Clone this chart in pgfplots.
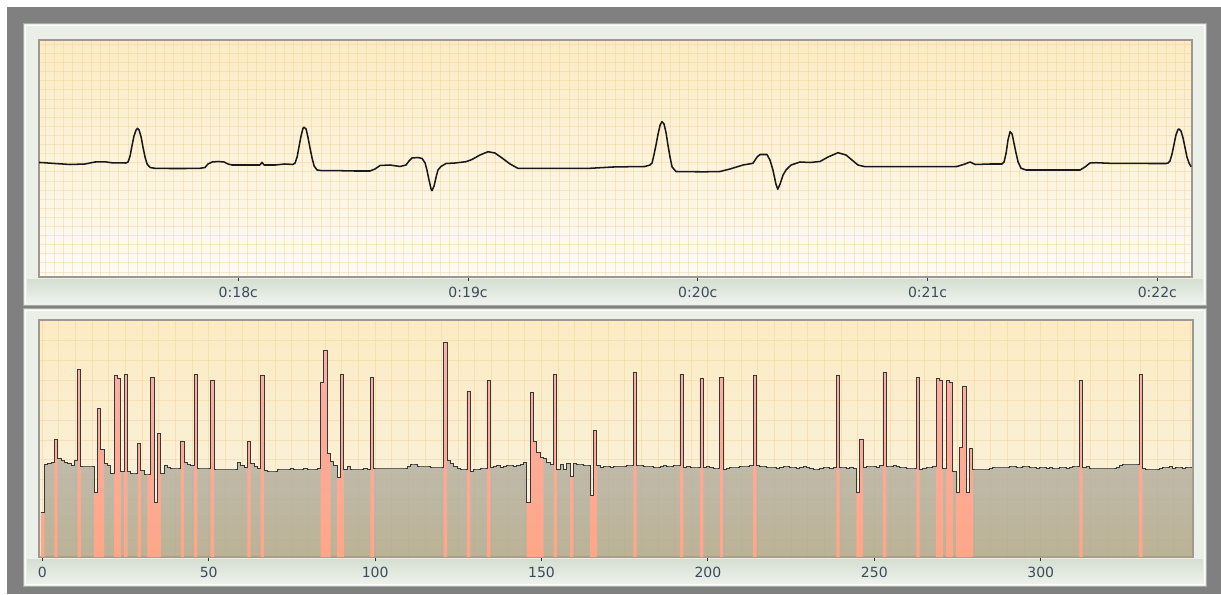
\documentclass[border=0pt]{standalone}
\usepackage{pgfplots}
\pgfplotsset{compat=1.18}
\usepackage{pgfplotstable}
\usepackage{fontspec}
\setmainfont{DejaVu Sans}

\definecolor{frame}{RGB}{128,128,128}
\definecolor{panel}{RGB}{234,240,231}
\definecolor{panelline}{RGB}{168,172,168}
\definecolor{stripA}{RGB}{213,223,209}
\definecolor{stripB}{RGB}{238,242,236}
\definecolor{plotborder}{RGB}{158,152,144}
\definecolor{gridc}{RGB}{240,208,145}
\definecolor{bgtop}{RGB}{252,235,195}
\definecolor{bgmid}{RGB}{253,251,245}
\definecolor{bgbot}{RGB}{250,243,226}
\definecolor{labelc}{RGB}{62,74,92}
\definecolor{ecg}{RGB}{25,25,25}
\definecolor{stepc}{RGB}{55,55,55}
\definecolor{areatop}{RGB}{182,185,195}
\definecolor{areabot}{RGB}{172,163,132}
\definecolor{salmtop}{RGB}{250,176,168}
\definecolor{salmbot}{RGB}{255,166,136}

% ECG trace: time (s), amplitude (px above the lower edge)
\pgfplotstableread[row sep=\\]{
t v\\
17.132 114.5\\ 17.141 114.5\\ 17.202 113.5\\ 17.268 112.5\\ 17.333 113\\ 17.376 115\\
17.420 115.2\\ 17.450 114.2\\ 17.511 114\\ 17.520 115\\ 17.529 121\\ 17.537 131\\
17.546 141\\ 17.555 147\\ 17.561 148.7\\ 17.568 147\\ 17.577 140\\ 17.585 130\\
17.594 120\\ 17.603 113\\ 17.616 109.5\\ 17.637 108.7\\ 17.703 108.5\\ 17.768 108.5\\
17.833 108.7\\ 17.855 109.5\\ 17.868 113\\ 17.886 115\\ 17.912 115.5\\ 17.938 115\\
17.955 113\\ 17.973 112\\ 18.007 112\\ 18.094 112\\ 18.103 114.7\\ 18.112 112\\
18.160 112\\ 18.203 113\\ 18.238 112.5\\ 18.247 114\\ 18.256 120\\ 18.264 130\\
18.273 141\\ 18.282 149\\ 18.286 149.7\\ 18.295 148\\ 18.303 140\\ 18.312 129\\
18.321 119\\ 18.330 111\\ 18.343 107\\ 18.364 106.3\\ 18.443 106.3\\ 18.508 106\\
18.573 106\\ 18.595 108\\ 18.617 111.5\\ 18.660 112\\ 18.704 110.5\\ 18.730 112\\
18.743 116\\ 18.756 119\\ 18.782 119.5\\ 18.800 118.5\\ 18.813 114\\ 18.821 107\\
18.830 97\\ 18.839 88\\ 18.843 86.3\\ 18.852 91\\ 18.861 100\\ 18.869 107\\
18.882 110.5\\ 18.904 113.5\\ 18.943 114\\ 18.991 115.3\\ 19.017 117.5\\ 19.052 122\\
19.087 125.3\\ 19.117 124\\ 19.148 119\\ 19.183 113\\ 19.204 110.3\\ 19.217 108.7\\
19.313 108.7\\ 19.422 108.7\\ 19.531 108.7\\ 19.631 110\\ 19.705 110.3\\ 19.770 110.5\\
19.792 112\\ 19.801 114\\ 19.809 122\\ 19.818 132\\ 19.827 143\\ 19.836 152\\
19.844 155.3\\ 19.853 153\\ 19.862 144\\ 19.870 132\\ 19.879 120\\ 19.888 110\\
19.905 105.5\\ 19.966 105.3\\ 20.031 105.2\\ 20.097 105.5\\ 20.140 108\\ 20.197 112\\
20.240 113.7\\ 20.258 120\\ 20.271 122.5\\ 20.301 122.5\\ 20.314 117\\ 20.327 107\\
20.340 93\\ 20.348 87.7\\ 20.358 93\\ 20.371 102\\ 20.384 107\\ 20.406 112\\
20.445 115\\ 20.488 114.5\\ 20.532 115.5\\ 20.567 120\\ 20.610 124.3\\ 20.645 122\\
20.671 117\\ 20.697 112\\ 20.728 110.3\\ 20.880 110.3\\ 21.054 110.3\\ 21.128 110.5\\
21.163 113\\ 21.185 115\\ 21.207 112.5\\ 21.272 113\\ 21.324 113\\ 21.333 115\\
21.342 124\\ 21.350 137\\ 21.359 145.3\\ 21.368 143\\ 21.376 134\\ 21.385 124\\
21.394 115\\ 21.407 108.7\\ 21.429 107\\ 21.533 107\\ 21.664 107\\ 21.685 110\\
21.707 114\\ 21.733 114.3\\ 21.794 113.7\\ 21.881 113.7\\ 21.968 113.5\\ 22.038 113.5\\
22.047 114\\ 22.055 116\\ 22.064 123\\ 22.073 133\\ 22.081 142\\ 22.090 147.5\\
22.094 148\\ 22.103 146\\ 22.112 139\\ 22.121 129\\ 22.129 120\\ 22.138 114\\
22.147 110.3\\
}\ecgdata

% beat-by-beat values: v (px above the lower edge), a = 1 for marked beats
\pgfplotstableread[row sep=\\]{
v a\\
45 1\\ 93 0\\ 94 0\\ 95 0\\ 118 1\\ 99 0\\ 97 0\\ 95 0\\ 94 0\\ 92 0\\
97 0\\ 188 1\\ 91 0\\ 91 0\\ 91 0\\ 91 0\\ 65 1\\ 149 1\\ 108 1\\ 94 0\\
92 0\\ 84 0\\ 182 1\\ 179 1\\ 86 0\\ 183 1\\ 86 0\\ 84 0\\ 84 0\\ 114 1\\
87 0\\ 83 0\\ 83 1\\ 180 1\\ 55 1\\ 124 1\\ 84 0\\ 92 0\\ 90 0\\ 89 0\\
89 0\\ 89 0\\ 116 1\\ 95 0\\ 93 0\\ 92 0\\ 183 1\\ 89 0\\ 89 0\\ 89 0\\
89 0\\ 177 1\\ 88 0\\ 88 0\\ 88 0\\ 88 0\\ 88 0\\ 88 0\\ 88 0\\ 95 0\\
92 0\\ 90 0\\ 116 1\\ 94 0\\ 91 0\\ 89 0\\ 182 1\\ 87 0\\ 86 0\\ 86 0\\
86 0\\ 88 0\\ 88 0\\ 88 0\\ 88 0\\ 89 0\\ 88 0\\ 88 0\\ 88 0\\ 89 0\\
88 0\\ 88 0\\ 88 0\\ 89 0\\ 175 1\\ 207 1\\ 104 1\\ 96 0\\ 92 0\\ 80 1\\
183 1\\ 88 0\\ 91 0\\ 88 0\\ 88 0\\ 88 0\\ 88 0\\ 89 0\\ 88 0\\ 180 1\\
89 0\\ 89 0\\ 89 0\\ 89 0\\ 89 0\\ 89 0\\ 89 0\\ 89 0\\ 89 0\\ 89 0\\
91 0\\ 93 0\\ 93 0\\ 91 0\\ 91 0\\ 91 0\\ 91 0\\ 90 0\\ 90 0\\ 90 0\\
90 0\\ 215 1\\ 97 0\\ 94 0\\ 91 0\\ 89 0\\ 88 0\\ 88 0\\ 166 1\\ 86 0\\
88 0\\ 88 0\\ 89 0\\ 89 0\\ 177 1\\ 90 0\\ 91 0\\ 92 0\\ 90 0\\ 91 0\\
92 0\\ 92 0\\ 91 0\\ 92 0\\ 93 0\\ 95 0\\ 55 1\\ 165 1\\ 116 1\\ 105 1\\
100 1\\ 99 0\\ 95 0\\ 93 0\\ 183 1\\ 88 0\\ 93 0\\ 88 0\\ 94 0\\ 81 1\\
94 0\\ 93 0\\ 93 0\\ 92 0\\ 92 0\\ 62 1\\ 127 1\\ 92 0\\ 90 0\\ 91 0\\
91 0\\ 90 0\\ 91 0\\ 91 0\\ 91 0\\ 91 0\\ 92 0\\ 92 0\\ 185 1\\ 92 0\\
92 0\\ 91 0\\ 91 0\\ 91 0\\ 90 0\\ 90 0\\ 91 0\\ 92 0\\ 91 0\\ 91 0\\
92 0\\ 92 0\\ 183 1\\ 90 0\\ 91 0\\ 90 0\\ 90 0\\ 90 0\\ 179 1\\ 90 0\\
91 0\\ 90 0\\ 89 0\\ 89 0\\ 180 1\\ 88 0\\ 89 0\\ 90 0\\ 90 0\\ 90 0\\
91 0\\ 91 0\\ 91 0\\ 92 0\\ 182 1\\ 92 0\\ 91 0\\ 91 0\\ 90 0\\ 90 0\\
90 0\\ 89 0\\ 90 0\\ 91 0\\ 91 0\\ 90 0\\ 90 0\\ 89 0\\ 90 0\\ 91 0\\
90 0\\ 89 0\\ 88 0\\ 88 0\\ 89 0\\ 90 0\\ 90 0\\ 89 0\\ 90 0\\ 182 1\\
90 0\\ 90 0\\ 89 0\\ 90 0\\ 89 0\\ 65 1\\ 118 1\\ 90 0\\ 91 0\\ 91 0\\
91 0\\ 90 0\\ 92 0\\ 185 1\\ 91 0\\ 91 0\\ 92 0\\ 91 0\\ 90 0\\ 90 0\\
89 0\\ 89 0\\ 89 0\\ 180 1\\ 88 0\\ 89 0\\ 90 0\\ 90 0\\ 91 0\\ 179 1\\
177 1\\ 89 0\\ 177 1\\ 175 1\\ 86 0\\ 65 1\\ 110 1\\ 171 1\\ 65 1\\ 109 1\\
88 0\\ 88 0\\ 88 0\\ 88 0\\ 88 0\\ 89 0\\ 90 0\\ 90 0\\ 90 0\\ 90 0\\
90 0\\ 91 0\\ 91 0\\ 90 0\\ 90 0\\ 91 0\\ 91 0\\ 90 0\\ 90 0\\ 89 0\\
90 0\\ 90 0\\ 89 0\\ 90 0\\ 89 0\\ 89 0\\ 90 0\\ 90 0\\ 89 0\\ 90 0\\
91 0\\ 91 0\\ 177 1\\ 90 0\\ 91 0\\ 89 0\\ 89 0\\ 89 0\\ 89 0\\ 89 0\\
89 0\\ 89 0\\ 89 0\\ 90 0\\ 92 0\\ 93 0\\ 93 0\\ 93 0\\ 93 0\\ 93 0\\
183 1\\ 89 0\\ 88 0\\ 88 0\\ 88 0\\ 88 0\\ 89 0\\ 90 0\\ 90 0\\ 91 0\\
89 0\\ 90 0\\ 90 0\\ 89 0\\ 90 0\\ 90 0\\ 90 0\\
}\rrdata

\pgfplotsset{
  panel/.style={
    scale only axis, anchor=south west, ymin=0, ymax=237,
    axis line style={plotborder, line width=1.4pt},
    xmajorgrids=false, xminorgrids=true, ymajorgrids=true,
    minor grid style={gridc, line width=0.75pt, opacity=0.42},
    major grid style={gridc, line width=0.75pt, opacity=0.42},
    yticklabels={}, ytick style={draw=none}, xtick pos=lower,
    tick align=outside, major tick length=3pt, minor tick length=0pt,
    xtick style={black!80, line width=0.75pt},
    xticklabel style={font=\fontsize{10.5}{12}\selectfont, text=labelc, yshift=-1pt},
    /pgf/number format/assume math mode=true,
  }
}

\begin{document}
\begin{tikzpicture}
\begin{scope}[x=0.75pt, y=0.75pt]
  \fill[white] (0,0) rectangle (1221,594);
  \fill[frame] (7,0) rectangle (1221,587);
  % panels
  \filldraw[fill=panel, draw=panelline, line width=1.1pt] (23.5,288.5) rectangle (1206.5,570.5);
  \draw[white, line width=0.8pt] (25.8,290.8) rectangle (1204.2,568.2);
  \filldraw[fill=panel, draw=panelline, line width=1.1pt] (23.5,7.5) rectangle (1206.5,285.5);
  \draw[white, line width=0.8pt] (25.8,9.8) rectangle (1204.2,283.2);
  \shade[top color=stripA, bottom color=stripB] (27,291) rectangle (1203,315);
  \shade[top color=stripA, bottom color=stripB] (27,10.5) rectangle (1203,35);
\end{scope}

% ECG strip
\begin{axis}[panel,
  at={(29.25pt,237.75pt)}, width=864.75pt, height=177.75pt,
  axis background/.style={shade, top color=bgtop, bottom color=bgmid},
  xmin=17.1325, xmax=22.151,
  xtick={18,19,20,21,22},
  xticklabels={0:18c,0:19c,0:20c,0:21c,0:22c},
  minor xtick={17.16,17.2,...,22.15},
  ytick={5,14.1,...,233},
]
  \addplot[ecg, line width=1.15pt, line join=round] table[x=t, y=v] {\ecgdata};
\end{axis}

% beat-by-beat strip
\begin{axis}[panel,
  at={(29.25pt,27.75pt)}, width=865.5pt, height=177.75pt,
  axis background/.style={shade, top color=bgtop, middle color=bgmid, bottom color=bgbot},
  xmin=-1, xmax=345.76,
  xtick={0,50,...,300},
  minor xtick={0,5,...,345},
  ytick={17.5,37.4,...,237},
]
  \addplot[draw=none, fill opacity=0.8, top color=areatop, bottom color=areabot,
    const plot mark left]
    table[x expr=\coordindex-0.4, y=v] {\rrdata} \closedcycle;
  \addplot[draw=none, top color=salmtop, bottom color=salmbot, const plot mark left]
    table[x expr=\coordindex-0.4, y expr=\thisrow{a}*\thisrow{v}] {\rrdata} \closedcycle;
  \addplot[stepc, line width=0.65pt, const plot mark left]
    table[x expr=\coordindex-0.4, y=v] {\rrdata};
\end{axis}
\end{tikzpicture}
\end{document}
